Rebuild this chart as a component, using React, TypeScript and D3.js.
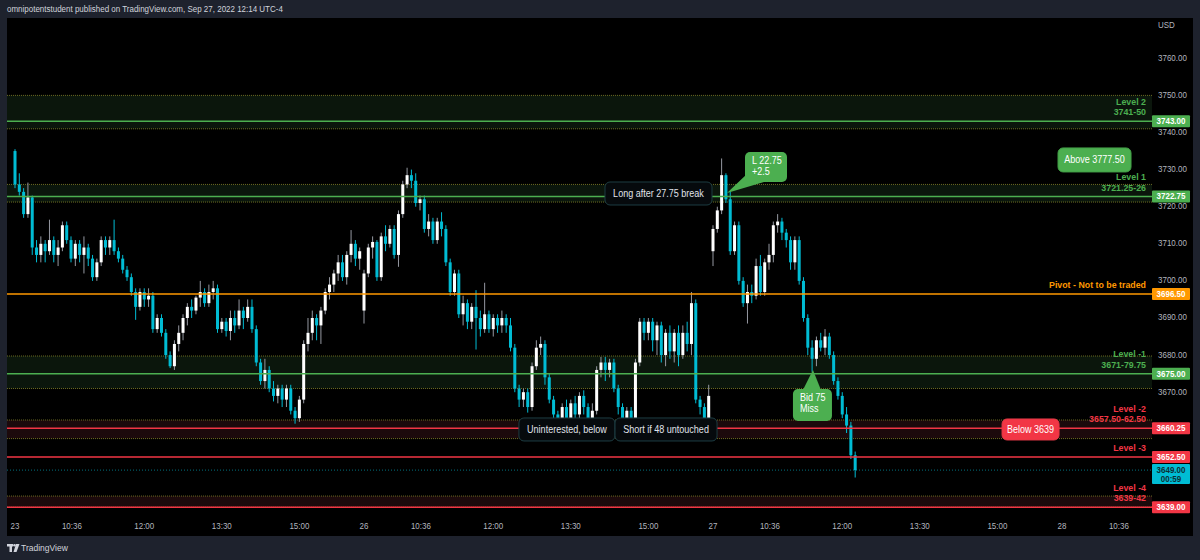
import React, { useEffect, useRef } from 'react'
import * as d3 from 'd3'

// [open, high, low, close] per 5 minute bar
type Bar = [number, number, number, number]

const day23: Bar[] = [
  [3735, 3735.5, 3725, 3726], [3726, 3729, 3723, 3724], [3724, 3725, 3717, 3718], [3718, 3726.5, 3717, 3722.5],
  [3722.5, 3723, 3707, 3709], [3709, 3711, 3705, 3707], [3707, 3712, 3705, 3710], [3710, 3711, 3705, 3708],
  [3708, 3716.5, 3707, 3711], [3711, 3712, 3705, 3707], [3707, 3711, 3704, 3709], [3709, 3716, 3708, 3715],
  [3715, 3716, 3710, 3711], [3711, 3712, 3705, 3706], [3706, 3711, 3704, 3710], [3710, 3711, 3705, 3707],
  [3707, 3712, 3702, 3709], [3709, 3710, 3704, 3706], [3706, 3707, 3700, 3701], [3701, 3706, 3700, 3705],
  [3705, 3712, 3704, 3711], [3711, 3712, 3707, 3709], [3709, 3712, 3707, 3711], [3711, 3716.5, 3707, 3708],
  [3708, 3709, 3705, 3706], [3706, 3707, 3702, 3703], [3703, 3704, 3700, 3701], [3701, 3702, 3696, 3697],
  [3697, 3698, 3689.5, 3693], [3693, 3698, 3692, 3697], [3697, 3698, 3693, 3695], [3695, 3698, 3693, 3696],
  [3696, 3697, 3686, 3687], [3687, 3691, 3686, 3690], [3690, 3691, 3685, 3686], [3686, 3687, 3679, 3680],
  [3680, 3681, 3676.5, 3677], [3677, 3684, 3676, 3683], [3683, 3688, 3681, 3686], [3686, 3691, 3684, 3690],
  [3690, 3694, 3688, 3693], [3693, 3695, 3690, 3692], [3692, 3696, 3691, 3695.5], [3695.5, 3700, 3693, 3697],
  [3697, 3698, 3693, 3694], [3694, 3699, 3693, 3697], [3697, 3700, 3695, 3698], [3698, 3699, 3686, 3687],
  [3687, 3690, 3686, 3689], [3689, 3690, 3685, 3686.5], [3686.5, 3692, 3684, 3690], [3690, 3692, 3686, 3688],
  [3688, 3695, 3687, 3692], [3692, 3693, 3687, 3690], [3690, 3695, 3689, 3693], [3693, 3695, 3686, 3687],
  [3687, 3688, 3677, 3678], [3678, 3679, 3672, 3673], [3673, 3679, 3671, 3676], [3676, 3677, 3670, 3671],
  [3671, 3673, 3667.5, 3669], [3669, 3672, 3667, 3671], [3671, 3672, 3666, 3668], [3668, 3672, 3666, 3671],
  [3671, 3672, 3664, 3665], [3665, 3666, 3661.5, 3663], [3663, 3669, 3662, 3668], [3668, 3684, 3667, 3683],
  [3683, 3690, 3681, 3686], [3686, 3692, 3684, 3690], [3690, 3691, 3684, 3688], [3688, 3693, 3683, 3692],
  [3692, 3698, 3691, 3697], [3697, 3701, 3695, 3699], [3699, 3703, 3697, 3702], [3702, 3707, 3700, 3705],
  [3705, 3707, 3700, 3701], [3701, 3708, 3699, 3707], [3707, 3713.7, 3705, 3710], [3710, 3711, 3704, 3706],
  [3706, 3709, 3703, 3708],
]

const day26: Bar[] = [
  [3692, 3703, 3688.5, 3702], [3702, 3710, 3701, 3709], [3709, 3712, 3706, 3710.5], [3710.5, 3711, 3700, 3701],
  [3701, 3713, 3700, 3712], [3712, 3715, 3708, 3710], [3710, 3715, 3709, 3714], [3714, 3715, 3706, 3707],
  [3707, 3719, 3703.8, 3718], [3718, 3727, 3717, 3726], [3726, 3730.5, 3725, 3728.5], [3728.5, 3730, 3725, 3727],
  [3727, 3729, 3720, 3721], [3721, 3723, 3719, 3722], [3722, 3723, 3713, 3714], [3714, 3718, 3712, 3716],
  [3716, 3717, 3710, 3711], [3711, 3717, 3710, 3716], [3716, 3718.5, 3712, 3714], [3714, 3715, 3704, 3705],
  [3705, 3706, 3696, 3697], [3697, 3703, 3696, 3702], [3702, 3703, 3690, 3691], [3691, 3696, 3688, 3694],
  [3694, 3695, 3687, 3689], [3689, 3694, 3687, 3693], [3693, 3697.5, 3681.5, 3690], [3690, 3692, 3685, 3687],
  [3687, 3699.5, 3686, 3691], [3691, 3692, 3686, 3687], [3687, 3691, 3685, 3690], [3690, 3691, 3686, 3688],
  [3688, 3692, 3686, 3690], [3690, 3691, 3686, 3688], [3688, 3690, 3681, 3682], [3682, 3683, 3670, 3671],
  [3671, 3672, 3666, 3668], [3668, 3671, 3666, 3670], [3670, 3671, 3664.5, 3666], [3666, 3678, 3665, 3677],
  [3677, 3684, 3676, 3682], [3682, 3685, 3680, 3683], [3683, 3684, 3672, 3674], [3674, 3675, 3667, 3668],
  [3668, 3669, 3662, 3664], [3664, 3665, 3661.5, 3662.5], [3662.5, 3667, 3661.5, 3666], [3666, 3668, 3662, 3663],
  [3663, 3668, 3662, 3667], [3667, 3669, 3663, 3664], [3664, 3670, 3663, 3669], [3669, 3670.5, 3664, 3666],
  [3666, 3667, 3661.5, 3663], [3663, 3667, 3662, 3665], [3665, 3677, 3664, 3676], [3676, 3679.5, 3674, 3678],
  [3678, 3679.5, 3673, 3676], [3676, 3679, 3674, 3678], [3678, 3679, 3670, 3671], [3671, 3672, 3664, 3666],
  [3666, 3667, 3662, 3663], [3663, 3666, 3661.5, 3665], [3665, 3666, 3661.5, 3662.5], [3662.5, 3679, 3662, 3678],
  [3678, 3690, 3677, 3689], [3689, 3690, 3684, 3686], [3686, 3690, 3684, 3689], [3689, 3690, 3681, 3684],
  [3684, 3689, 3680, 3688], [3688, 3689, 3678, 3680], [3680, 3687, 3677, 3686], [3686, 3688, 3679, 3681],
  [3681, 3687, 3678, 3686], [3686, 3688, 3677, 3680], [3680, 3688, 3679, 3686], [3686, 3689, 3681, 3683],
  [3683, 3697, 3680, 3694], [3694, 3695, 3667, 3668], [3668, 3669, 3664, 3666], [3666, 3667, 3662, 3663],
  [3663, 3672, 3662, 3669],
]

const day27: Bar[] = [
  [3708, 3715, 3704, 3714], [3714, 3720, 3713, 3719], [3719, 3733, 3718, 3728.5], [3728.5, 3729, 3721, 3722],
  [3722, 3724, 3707, 3708], [3708, 3716, 3707, 3715], [3715, 3716, 3699, 3700], [3700, 3701, 3693, 3694],
  [3694, 3699, 3688.5, 3697], [3697, 3699, 3694, 3696], [3696, 3706, 3695, 3704], [3704, 3707, 3696, 3697],
  [3697, 3706, 3696, 3705], [3705, 3710, 3703, 3707], [3707, 3716, 3705, 3715], [3715, 3718, 3713, 3716],
  [3716, 3717, 3711, 3713], [3713, 3714, 3709, 3711], [3711, 3712, 3703, 3705], [3705, 3712, 3703, 3711],
  [3711, 3712, 3699, 3700], [3700, 3701, 3689, 3690], [3690, 3691, 3680, 3682], [3682, 3684, 3675.5, 3679],
  [3679, 3685, 3677, 3684], [3684, 3686, 3681, 3682], [3682, 3687, 3680, 3685], [3685, 3686, 3679, 3680],
  [3680, 3681, 3672, 3673], [3673, 3674, 3668, 3669], [3669, 3670, 3663, 3664], [3664, 3666, 3659, 3661],
  [3661, 3662, 3652, 3653], [3653, 3654, 3647, 3649],
]

const sessionDays = ['23', '26', '27', '28']
const sessionBars = 81
const tickMinutes = [66, 150, 240, 330]
const tickLabels = ['10:36', '12:00', '13:30', '15:00']

const zoneLow = [3741, 3721.25, 3671, 3657.5, 3639]
const zoneHigh = [3750, 3726, 3679.75, 3662.5, 3642]
const zoneTone = ['green', 'green', 'green', 'red', 'red']

const levelPrice = [3743, 3722.75, 3696.5, 3675, 3660.25, 3652.5, 3639]
const levelTone = ['green', 'green', 'orange', 'green', 'red', 'red', 'red']
const levelTitle = ['Level 2', 'Level 1', 'Pivot - Not to be traded', 'Level -1', 'Level -2', 'Level -3', 'Level -4']
const levelRange = ['3741-50', '3721.25-26', '', '3671-79.75', '3657.50-62.50', '', '3639-42']

const lastPrice = 3649
const lastCountdown = '00:59'

const FONT = "'Liberation Sans', Arial, sans-serif"
const tone: Record<string, string> = { green: '#4caf50', red: '#f23645', orange: '#ff9800' }

export default function App() {
  const ref = useRef<SVGSVGElement>(null)

  useEffect(() => {
    const svg = d3.select(ref.current)
    svg.selectAll('*').remove()

    const left = 7, top = 18, right = 1193, bottom = 536, plotRight = 1152

    // the platform font is narrow; squeeze Liberation Sans to match
    const label = (px: number, py: number, t: string, size: number, fill: string, anchor = 'start', weight = 'normal', sx = 0.86) =>
      svg.append('text').attr('transform', `translate(${px},${py}) scale(${sx},1)`)
        .attr('text-anchor', anchor).attr('dominant-baseline', 'middle').attr('fill', fill)
        .style('font', `${weight} ${size}px ${FONT}`).text(t)

    const bars = [day23, day26, day27].flatMap((day, s) =>
      day.map((b, i) => ({ i: s * sessionBars + i, o: b[0], h: b[1], l: b[2], c: b[3] })))

    const x = d3.scaleLinear().domain([0, 243]).range([15, 1062])
    const y = d3.scaleLinear().domain([3639, 3760]).range([507.2, 58.3])

    svg.append('rect').attr('width', 1200).attr('height', 560).attr('fill', '#1e222d')
    svg.append('rect').attr('x', left).attr('y', top).attr('width', right - left).attr('height', bottom - top).attr('fill', '#000')

    label(7, 10, 'omnipotentstudent published on TradingView.com, Sep 27, 2022 12:14 UTC-4', 9.3, '#d1d4dc')

    // zones
    const zones = svg.append('g')
    zoneLow.forEach((lo, k) => {
      const hi = zoneHigh[k]
      zones.append('rect').attr('x', left).attr('width', plotRight - left)
        .attr('y', y(hi)).attr('height', y(lo) - y(hi))
        .attr('fill', zoneTone[k] === 'green' ? '#0b160c' : '#1c0a0c')
      ;[lo, hi].forEach(p => zones.append('line')
        .attr('x1', left).attr('x2', plotRight).attr('y1', y(p)).attr('y2', y(p))
        .attr('stroke', '#6b6a22').attr('stroke-dasharray', '1,1'))
    })

    // last price dotted line
    svg.append('line').attr('x1', left).attr('x2', plotRight).attr('y1', y(lastPrice)).attr('y2', y(lastPrice))
      .attr('stroke', '#00bcd4').attr('stroke-opacity', 0.6).attr('stroke-dasharray', '1,2')

    // candles
    const cg = svg.append('g').selectAll('g').data(bars).enter().append('g')
    cg.append('line')
      .attr('x1', d => x(d.i)).attr('x2', d => x(d.i))
      .attr('y1', d => y(d.h)).attr('y2', d => y(d.l))
      .attr('stroke', d => d.c >= d.o ? '#9598a1' : '#00bcd4').attr('stroke-width', 1)
    cg.append('rect')
      .attr('x', d => x(d.i) - 1.5).attr('width', 3)
      .attr('y', d => y(Math.max(d.o, d.c)))
      .attr('height', d => Math.max(1, Math.abs(y(d.o) - y(d.c))))
      .attr('fill', d => d.c >= d.o ? '#ffffff' : '#00bcd4')

    // level lines + labels
    levelPrice.forEach((p, k) => {
      const c = tone[levelTone[k]]
      svg.append('line').attr('x1', left).attr('x2', plotRight).attr('y1', y(p)).attr('y2', y(p))
        .attr('stroke', c).attr('stroke-width', 1.5)
      const lines = levelRange[k] ? [levelTitle[k], levelRange[k]] : [levelTitle[k]]
      lines.forEach((t, j) => label(1146, y(p) - 8.5 - 10.5 * (lines.length - 1 - j), t, 9.5, c, 'end', 'bold', 0.93))
    })

    // price axis (labels hidden where a price tag sits, as on the platform)
    const tagged = levelPrice.concat([lastPrice])
    label(1158, 26, 'USD', 9.3, '#b2b5be')
    y.ticks(12).filter(t => tagged.every(p => Math.abs(y(p) - y(t)) > 9))
      .forEach(t => label(1158, y(t), d3.format('.2f')(t), 9.3, '#b2b5be'))

    const tag = (p: number, fill: string, ink: string, lines: string[]) => {
      const h = lines.length > 1 ? 20 : 12
      svg.append('rect').attr('x', plotRight).attr('y', y(p) - 6).attr('width', 38).attr('height', h)
        .attr('rx', 1).attr('fill', fill)
      lines.forEach((t, j) => label(plotRight + 19, y(p) + j * 9 + 0.5, t, 9.3, ink, 'middle', 'bold'))
    }
    levelPrice.forEach((p, k) => tag(p, tone[levelTone[k]], '#ffffff', [d3.format('.2f')(p)]))
    tag(lastPrice, '#00bcd4', '#0d2f35', [d3.format('.2f')(lastPrice), lastCountdown])

    // time axis
    sessionDays.forEach((d, s) => {
      const marks = [{ b: s * sessionBars, t: d }]
        .concat(tickMinutes.map((m, j) => ({ b: s * sessionBars + m / 5, t: tickLabels[j] })))
      marks.filter(m => x(m.b) < 1140).forEach(m => label(x(m.b), 527, m.t, 9.3, '#b2b5be', 'middle'))
    })

    // annotations
    const box = (cx: number, cy: number, w: number, h: number, fill: string, stroke: string, ink: string, t: string) => {
      svg.append('rect').attr('x', cx - w / 2).attr('y', cy - h / 2).attr('width', w).attr('height', h)
        .attr('rx', 5).attr('fill', fill).attr('stroke', stroke)
      label(cx, cy + 0.5, t, 10.5, ink, 'middle')
    }
    const callout = (tx: number, ty: number, bx: number, by: number, w: number, h: number, base: [number, number][], lines: string[]) => {
      svg.append('path').attr('d', d3.line()([[tx, ty], ...base])! + 'Z').attr('fill', '#4caf50')
      svg.append('rect').attr('x', bx).attr('y', by).attr('width', w).attr('height', h).attr('rx', 5).attr('fill', '#4caf50')
      lines.forEach((t, j) => label(bx + 7, by + 9.5 + j * 11, t, 10.5, '#fff'))
    }

    box(x(250.55), y(3732.6), 73, 24, '#4caf50', '#43a047', '#fff', 'Above 3777.50')
    box(x(149.35), y(3723.56), 107, 23, '#060a0d', '#1d3d42', '#e0e3eb', 'Long after 27.75 break')
    box(x(128.1), y(3659.95), 96, 23, '#060a0d', '#1d3d42', '#e0e3eb', 'Uninterested, below')
    box(x(151.1), y(3659.95), 102, 23, '#060a0d', '#1d3d42', '#e0e3eb', 'Short if 48 untouched')
    box(x(235.7), y(3659.95), 57, 21, '#f23645', '#e53946', '#fff', 'Below 3639')

    const lt = [x(165.25), y(3723.7)]
    callout(lt[0], lt[1], lt[0] + 18, lt[1] - 41, 42, 30,
      [[lt[0] + 21, lt[1] - 20], [lt[0] + 37, lt[1] - 11]], ['L 22.75', '+2.5'])
    const bt = [x(185.2), y(3676)]
    callout(bt[0], bt[1], bt[0] - 20, bt[1] + 19, 39, 32,
      [[bt[0] - 10, bt[1] + 20], [bt[0] + 8, bt[1] + 20]], ['Bid 75', 'Miss'])

    // footer logo
    const logo = svg.append('g').attr('fill', '#d1d4dc')
    logo.append('rect').attr('x', 7).attr('y', 544).attr('width', 6).attr('height', 2.5)
    logo.append('rect').attr('x', 9.5).attr('y', 544).attr('width', 2.5).attr('height', 8)
    logo.append('circle').attr('cx', 14.5).attr('cy', 545.3).attr('r', 1.3)
    logo.append('path').attr('d', 'M16,544 L19.5,544 L16.5,552 L13.5,552 Z')
    label(21, 548.5, 'TradingView', 9.9, '#d1d4dc')
  }, [])

  return (
    <div style={{ position: 'absolute', left: 0, top: 0 }}>
      <svg ref={ref} width={1200} height={560} />
    </div>
  )
}
